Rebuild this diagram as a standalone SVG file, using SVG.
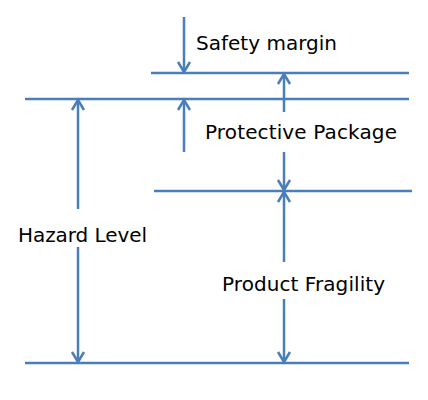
<svg xmlns="http://www.w3.org/2000/svg" width="428" height="400" viewBox="0 0 428 400">
<style>
.lvl{stroke:#4a7ebb;stroke-width:2.5;fill:none}
.arr{stroke:#4a7ebb;stroke-width:2.5;fill:none;marker-end:url(#head)}
text{font-family:"DejaVu Sans",sans-serif;font-size:20px;fill:#000}
</style>
<defs>
<marker id="head" markerUnits="userSpaceOnUse" markerWidth="16" markerHeight="16" viewBox="-12 -8 14 16" refX="0" refY="0" orient="auto">
<path d="M-10,-6 L0,0 L-10,6" stroke="#4a7ebb" stroke-width="2.5" fill="none"/>
</marker>
</defs>
<rect width="428" height="400" fill="#fff"/>
<g id="levels">
<g id="level-safety"><line class="lvl" x1="151" y1="73" x2="409" y2="73"/></g>
<g id="level-hazard-top"><line class="lvl" x1="25" y1="99" x2="409" y2="99"/></g>
<g id="level-fragility"><line class="lvl" x1="154" y1="191" x2="412" y2="191"/></g>
<g id="level-base"><line class="lvl" x1="25" y1="363" x2="409" y2="363"/></g>
</g>
<g id="connectors">
<line class="arr" x1="184" y1="17" x2="184" y2="72"/>
<line class="arr" x1="184" y1="152" x2="184" y2="100"/>
<line class="arr" x1="284" y1="112" x2="284" y2="74"/>
<line class="arr" x1="284" y1="152" x2="284" y2="190"/>
<line class="arr" x1="284" y1="262" x2="284" y2="192"/>
<line class="arr" x1="284" y1="299" x2="284" y2="362"/>
<line class="arr" x1="78" y1="209" x2="78" y2="100"/>
<line class="arr" x1="78" y1="247" x2="78" y2="362"/>
</g>
<g id="label-safety"><text x="196" y="50" textLength="141">Safety margin</text></g>
<g id="label-protective"><text x="205" y="139" textLength="192">Protective Package</text></g>
<g id="label-hazard"><text x="18" y="242" textLength="129">Hazard Level</text></g>
<g id="label-fragility"><text x="222" y="291" textLength="163">Product Fragility</text></g>
</svg>
